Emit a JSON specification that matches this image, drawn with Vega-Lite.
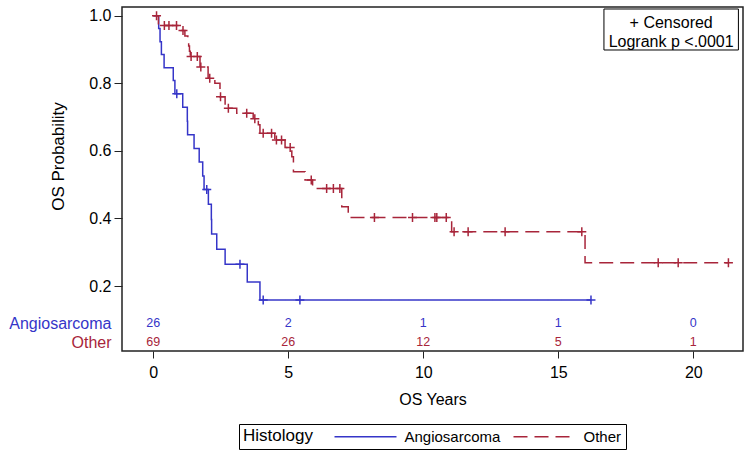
{
 "$schema": "https://vega.github.io/schema/vega-lite/v6.json",
 "width": 621, "height": 344,
 "autosize": {"type": "none"},
 "padding": {"left": 122, "top": 7, "right": 7, "bottom": 101},
 "background": "white",
 "config": {
  "font": "Liberation Sans",
  "view": {"stroke": "#222", "strokeWidth": 1.5},
  "axis": {"grid": false, "domain": false, "tickColor": "#222", "labelColor": "black", "titleColor": "black", "labelFontSize": 16, "titleFontSize": 16, "titleFontWeight": "normal"}
 },
 "datasets": {
  "km": [
   {"g":"Angiosarcoma","t":0,"s":1,"c":0},
   {"g":"Angiosarcoma","t":0.2,"s":0.962,"c":0},
   {"g":"Angiosarcoma","t":0.25,"s":0.923,"c":0},
   {"g":"Angiosarcoma","t":0.3,"s":0.885,"c":0},
   {"g":"Angiosarcoma","t":0.4,"s":0.846,"c":0},
   {"g":"Angiosarcoma","t":0.74,"s":0.808,"c":0},
   {"g":"Angiosarcoma","t":0.8,"s":0.769,"c":0},
   {"g":"Angiosarcoma","t":0.87,"s":0.769,"c":1},
   {"g":"Angiosarcoma","t":1.09,"s":0.729,"c":0},
   {"g":"Angiosarcoma","t":1.26,"s":0.688,"c":0},
   {"g":"Angiosarcoma","t":1.27,"s":0.648,"c":0},
   {"g":"Angiosarcoma","t":1.51,"s":0.607,"c":0},
   {"g":"Angiosarcoma","t":1.7,"s":0.567,"c":0},
   {"g":"Angiosarcoma","t":1.83,"s":0.526,"c":0},
   {"g":"Angiosarcoma","t":1.88,"s":0.486,"c":0},
   {"g":"Angiosarcoma","t":1.98,"s":0.486,"c":1},
   {"g":"Angiosarcoma","t":2.04,"s":0.442,"c":0},
   {"g":"Angiosarcoma","t":2.15,"s":0.397,"c":0},
   {"g":"Angiosarcoma","t":2.16,"s":0.354,"c":0},
   {"g":"Angiosarcoma","t":2.35,"s":0.309,"c":0},
   {"g":"Angiosarcoma","t":2.66,"s":0.265,"c":0},
   {"g":"Angiosarcoma","t":3.21,"s":0.265,"c":1},
   {"g":"Angiosarcoma","t":3.48,"s":0.212,"c":0},
   {"g":"Angiosarcoma","t":3.95,"s":0.159,"c":0},
   {"g":"Angiosarcoma","t":4.07,"s":0.159,"c":1},
   {"g":"Angiosarcoma","t":5.43,"s":0.159,"c":1},
   {"g":"Angiosarcoma","t":16.21,"s":0.159,"c":1},
   {"g":"Other","t":0,"s":1,"c":0},
   {"g":"Other","t":0.12,"s":1,"c":1},
   {"g":"Other","t":0.19,"s":0.971,"c":0},
   {"g":"Other","t":0.41,"s":0.971,"c":1},
   {"g":"Other","t":0.58,"s":0.971,"c":1},
   {"g":"Other","t":0.86,"s":0.971,"c":1},
   {"g":"Other","t":1.03,"s":0.956,"c":0},
   {"g":"Other","t":1.1,"s":0.956,"c":1},
   {"g":"Other","t":1.17,"s":0.94,"c":0},
   {"g":"Other","t":1.28,"s":0.925,"c":0},
   {"g":"Other","t":1.31,"s":0.91,"c":0},
   {"g":"Other","t":1.34,"s":0.895,"c":0},
   {"g":"Other","t":1.37,"s":0.879,"c":0},
   {"g":"Other","t":1.4,"s":0.879,"c":1},
   {"g":"Other","t":1.63,"s":0.879,"c":1},
   {"g":"Other","t":1.73,"s":0.848,"c":0},
   {"g":"Other","t":1.76,"s":0.848,"c":1},
   {"g":"Other","t":2.03,"s":0.815,"c":0},
   {"g":"Other","t":2.09,"s":0.815,"c":1},
   {"g":"Other","t":2.28,"s":0.8,"c":0},
   {"g":"Other","t":2.47,"s":0.76,"c":0},
   {"g":"Other","t":2.49,"s":0.76,"c":1},
   {"g":"Other","t":2.66,"s":0.726,"c":0},
   {"g":"Other","t":2.78,"s":0.726,"c":1},
   {"g":"Other","t":3.09,"s":0.711,"c":0},
   {"g":"Other","t":3.46,"s":0.711,"c":1},
   {"g":"Other","t":3.7,"s":0.695,"c":0},
   {"g":"Other","t":3.76,"s":0.695,"c":1},
   {"g":"Other","t":3.89,"s":0.677,"c":0},
   {"g":"Other","t":3.95,"s":0.652,"c":0},
   {"g":"Other","t":4.07,"s":0.652,"c":1},
   {"g":"Other","t":4.38,"s":0.652,"c":1},
   {"g":"Other","t":4.5,"s":0.632,"c":0},
   {"g":"Other","t":4.56,"s":0.632,"c":1},
   {"g":"Other","t":4.75,"s":0.632,"c":1},
   {"g":"Other","t":4.88,"s":0.61,"c":0},
   {"g":"Other","t":5.07,"s":0.61,"c":1},
   {"g":"Other","t":5.13,"s":0.583,"c":0},
   {"g":"Other","t":5.19,"s":0.538,"c":0},
   {"g":"Other","t":5.62,"s":0.514,"c":0},
   {"g":"Other","t":5.85,"s":0.514,"c":1},
   {"g":"Other","t":5.9,"s":0.489,"c":0},
   {"g":"Other","t":6.42,"s":0.489,"c":1},
   {"g":"Other","t":6.67,"s":0.489,"c":1},
   {"g":"Other","t":6.91,"s":0.489,"c":1},
   {"g":"Other","t":6.98,"s":0.435,"c":0},
   {"g":"Other","t":7.22,"s":0.403,"c":0},
   {"g":"Other","t":8.19,"s":0.403,"c":1},
   {"g":"Other","t":9.6,"s":0.403,"c":1},
   {"g":"Other","t":10.43,"s":0.403,"c":1},
   {"g":"Other","t":10.5,"s":0.403,"c":1},
   {"g":"Other","t":10.85,"s":0.403,"c":1},
   {"g":"Other","t":11.05,"s":0.361,"c":0},
   {"g":"Other","t":11.14,"s":0.361,"c":1},
   {"g":"Other","t":11.66,"s":0.361,"c":1},
   {"g":"Other","t":13.03,"s":0.361,"c":1},
   {"g":"Other","t":15.87,"s":0.361,"c":1},
   {"g":"Other","t":15.99,"s":0.269,"c":0},
   {"g":"Other","t":18.7,"s":0.269,"c":1},
   {"g":"Other","t":19.44,"s":0.269,"c":1},
   {"g":"Other","t":21.3,"s":0.269,"c":1}
  ],
  "risk": [
   {"g":"Angiosarcoma","t":0,"n":26},
   {"g":"Angiosarcoma","t":5,"n":2},
   {"g":"Angiosarcoma","t":10,"n":1},
   {"g":"Angiosarcoma","t":15,"n":1},
   {"g":"Angiosarcoma","t":20,"n":0},
   {"g":"Other","t":0,"n":69},
   {"g":"Other","t":5,"n":26},
   {"g":"Other","t":10,"n":12},
   {"g":"Other","t":15,"n":5},
   {"g":"Other","t":20,"n":1}
  ]
 },
 "layer": [
  {
   "data": {"name": "km"},
   "mark": {"type": "line", "interpolate": "step-after", "strokeWidth": 1.5},
   "encoding": {
    "x": {"field": "t", "type": "quantitative", "scale": {"domain": [-1.159, 21.84], "nice": false, "zero": false},
          "axis": {"values": [0,5,10,15,20], "tickSize": 7, "labelPadding": 6, "title": "OS Years", "titlePadding": 11}},
    "y": {"field": "s", "type": "quantitative", "scale": {"domain": [0.008, 1.0257], "nice": false, "zero": false},
          "axis": {"values": [0.034, 0.09, 0.2, 0.4, 0.6, 0.8, 1.0],
                   "labelExpr": "datum.value < 0.06 ? 'Other' : datum.value < 0.15 ? 'Angiosarcoma' : format(datum.value, '.1f')",
                   "labelColor": {"condition": [{"test": "datum.value < 0.06", "value": "#A8253A"}, {"test": "datum.value < 0.15", "value": "#3535C8"}], "value": "black"},
                   "tickOpacity": {"condition": {"test": "datum.value < 0.15", "value": 0}, "value": 1},
                   "tickSize": 8,
                   "labelPadding": 3,
                   "title": "OS Probability", "titleFontSize": 17, "titleX": -64, "titleY": 149, "titleBaseline": "middle", "titleAlign": "center", "titleAngle": -90}},
    "color": {"field": "g", "type": "nominal", "scale": {"domain": ["Angiosarcoma","Other"], "range": ["#3535C8","#A8253A"]},
              "legend": {"title": "Histology", "orient": "none", "legendX": 117, "legendY": 417, "direction": "horizontal", "titleOrient": "left",
                         "titleAnchor": "middle", "titleBaseline": "middle",
                         "strokeColor": "black", "padding": 4, "symbolType": "M-4.133,0H4.133", "symbolSize": 225, "symbolStrokeWidth": 1.5,
                         "labelFontSize": 15, "labelColor": "black", "titleFontSize": 17, "titleFontWeight": "normal", "titleColor": "black",
                         "labelOffset": 30.5, "columnPadding": 9, "titlePadding": 44}},
    "strokeDash": {"field": "g", "type": "nominal", "scale": {"domain": ["Angiosarcoma","Other"], "range": [[1,0],[14,7]]}}
   }
  },
  {
   "data": {"name": "km"},
   "transform": [{"filter": "datum.c == 1"}],
   "mark": {"type": "point", "shape": "M-1,0H1M0,-1V1", "size": 81, "strokeWidth": 1.5, "filled": false, "opacity": 1},
   "encoding": {
    "x": {"field": "t", "type": "quantitative"},
    "y": {"field": "s", "type": "quantitative"},
    "stroke": {"condition": {"test": "datum.g == 'Other'", "value": "#A8253A"}, "value": "#3535C8"}
   }
  },
  {
   "data": {"name": "risk"},
   "transform": [{"filter": "datum.g == 'Angiosarcoma'"}],
   "mark": {"type": "text", "fontSize": 12.5, "baseline": "middle", "color": "#3535C8"},
   "encoding": {"x": {"field": "t", "type": "quantitative"}, "y": {"datum": 0.09}, "text": {"field": "n"}}
  },
  {
   "data": {"name": "risk"},
   "transform": [{"filter": "datum.g == 'Other'"}],
   "mark": {"type": "text", "fontSize": 12.5, "baseline": "middle", "color": "#A8253A"},
   "encoding": {"x": {"field": "t", "type": "quantitative"}, "y": {"datum": 0.034}, "text": {"field": "n"}}
  },
  {
   "data": {"values": [{}]},
   "mark": {"type": "rect", "fill": "white", "stroke": "black", "strokeWidth": 1},
   "encoding": {"x": {"datum": 16.69}, "x2": {"datum": 21.67}, "y": {"datum": 0.8985}, "y2": {"datum": 1.0198}}
  },
  {
   "data": {"values": [{}]},
   "mark": {"type": "text", "text": "+ Censored", "fontSize": 16, "baseline": "middle", "color": "black"},
   "encoding": {"x": {"datum": 19.18}, "y": {"datum": 0.979}}
  },
  {
   "data": {"values": [{}]},
   "mark": {"type": "text", "text": "Logrank p <.0001", "fontSize": 16, "baseline": "middle", "color": "black"},
   "encoding": {"x": {"datum": 19.18}, "y": {"datum": 0.923}}
  }
 ]
}
